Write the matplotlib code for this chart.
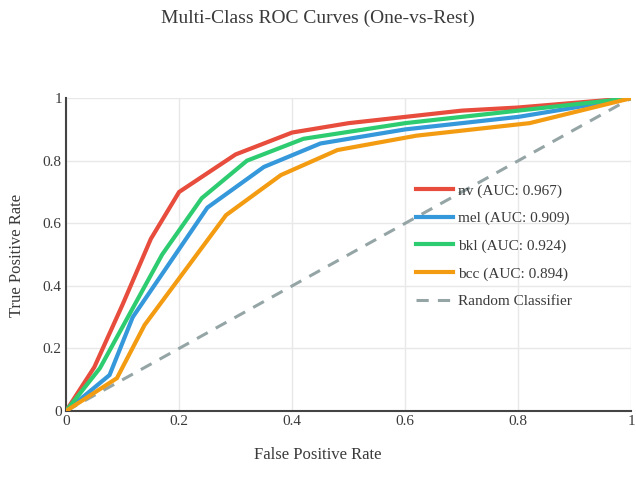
import matplotlib.pyplot as plt

plt.rcParams['font.family'] = ['Liberation Serif', 'DejaVu Serif']

# ROC points
nv_fpr = [0, 0.05, 0.10, 0.15, 0.20, 0.30, 0.40, 0.50, 0.60, 0.70, 0.80, 0.90, 1.0]
nv_tpr = [0, 0.14, 0.34, 0.55, 0.70, 0.82, 0.89, 0.92, 0.94, 0.96, 0.97, 0.985, 1.0]

mel_fpr = [0, 0.077, 0.118, 0.25, 0.35, 0.45, 0.60, 0.80, 1.0]
mel_tpr = [0, 0.115, 0.30, 0.65, 0.78, 0.855, 0.90, 0.94, 1.0]

bkl_fpr = [0, 0.06, 0.17, 0.24, 0.32, 0.42, 0.60, 0.80, 1.0]
bkl_tpr = [0, 0.137, 0.50, 0.68, 0.80, 0.87, 0.92, 0.96, 1.0]

bcc_fpr = [0, 0.09, 0.139, 0.283, 0.38, 0.48, 0.62, 0.82, 1.0]
bcc_tpr = [0, 0.105, 0.275, 0.626, 0.754, 0.834, 0.88, 0.92, 1.0]

labels = ['nv (AUC: 0.967)', 'mel (AUC: 0.909)', 'bkl (AUC: 0.924)', 'bcc (AUC: 0.894)']
colors = ['#e74c3c', '#3498db', '#2ecc71', '#f39c12']
ticks = [0, 0.2, 0.4, 0.6, 0.8, 1]
tick_labels = ['0', '0.2', '0.4', '0.6', '0.8', '1']

fig = plt.figure(figsize=(6.36, 4.92), dpi=100)
ax = fig.add_axes([0.1038, 0.1646, 0.889, 0.636])

curves = [(nv_fpr, nv_tpr), (mel_fpr, mel_tpr), (bkl_fpr, bkl_tpr), (bcc_fpr, bcc_tpr)]
for (x, y), lab, c in zip(curves, labels, colors):
    ax.plot(x, y, color=c, lw=3, label=lab, solid_joinstyle='miter', zorder=3)
ax.plot([0, 1], [0, 1], color='#95a5a6', lw=2.2, ls=(0, (4, 3)), label='Random Classifier', zorder=2)

ax.set_xlim(0, 1)
ax.set_ylim(0, 1)
ax.set_xticks(ticks)
ax.set_xticklabels(tick_labels)
ax.set_yticks(ticks)
ax.set_yticklabels(tick_labels)
ax.tick_params(length=0, labelsize=11, colors='#3a3a3a', pad=3)
ax.grid(color='#e8e8e8', lw=1)
for s in ['top', 'right']:
    ax.spines[s].set_visible(False)
for s in ['left', 'bottom']:
    ax.spines[s].set_color('#444444')
    ax.spines[s].set_linewidth(1.5)

fig.text(0.5, 0.963, 'Multi-Class ROC Curves (One-vs-Rest)', ha='center', va='center',
         fontsize=14, color='#3a3a3a')
fig.text(0.5, 0.075, 'False Positive Rate', ha='center', va='center', fontsize=12, color='#3a3a3a')
fig.text(0.027, 0.48, 'True Positive Rate', ha='center', va='center', rotation=90,
         fontsize=12, color='#3a3a3a')

ax.legend(loc='upper left', bbox_to_anchor=(0.595, 0.77), frameon=False, fontsize=11,
          handlelength=2.4, labelspacing=0.9, handletextpad=0.35, labelcolor='#3a3a3a')

fig.savefig('out.png', dpi=100)
